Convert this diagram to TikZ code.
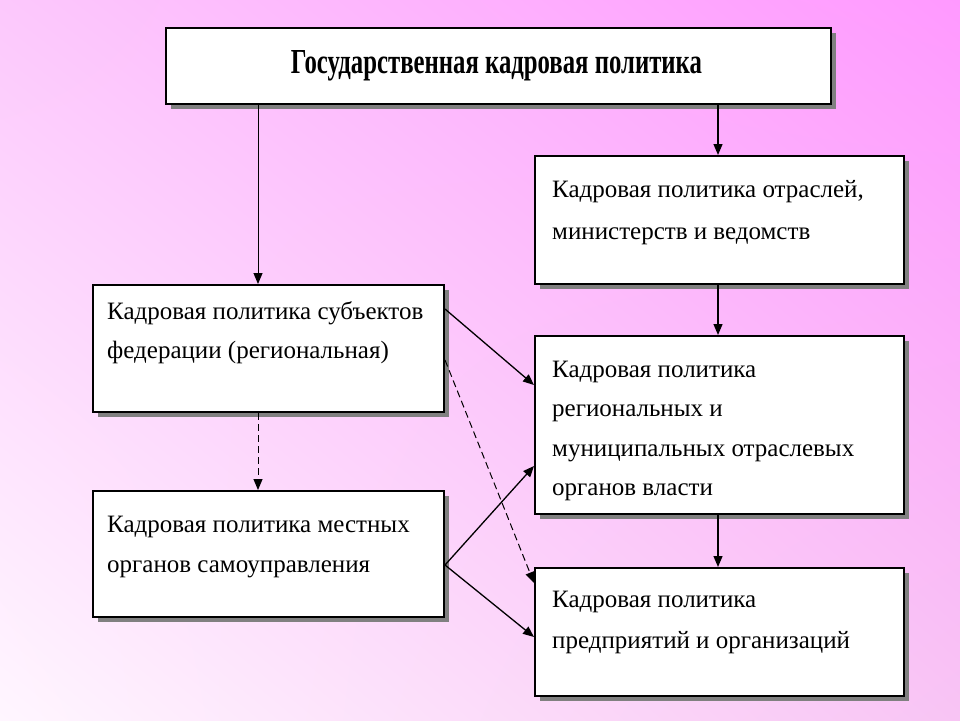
\documentclass[tikz,border=0pt]{standalone}
\usepackage{fontspec}
\setmainfont{Liberation Serif}
\usetikzlibrary{arrows.meta,shadows,calc,shadings}
\definecolor{bgTL}{HTML}{FCC8FC}
\definecolor{bgTR}{HTML}{FF99FF}
\definecolor{bgBL}{HTML}{FFF6FF}
\definecolor{bgBR}{HTML}{F8C4F4}
\definecolor{shad}{HTML}{808080}
\begin{document}
\begin{tikzpicture}[x=1pt,y=-1pt,
  box/.style={draw=black, line width=2pt, fill=white, inner sep=0pt, anchor=north west,
    drop shadow={shadow xshift=5pt, shadow yshift=-5pt, fill=shad, opacity=1}},
  txt/.style={anchor=base west, inner sep=0pt, align=left, font=\fontsize{25}{40}\selectfont},
  arr/.style={line width=1.3pt, -{Triangle[length=11pt,width=9pt]}},
  darr/.style={arr, dash pattern=on 7pt off 4pt},
]
\useasboundingbox (0,0) rectangle (960,720);
\shade[upper left=bgTL, upper right=bgTR, lower left=bgBL, lower right=bgBR] (0,0) rectangle (960,720);

\node[box, minimum width=665pt, minimum height=76pt] (top) at (165,27) {};
\node[box, minimum width=369pt, minimum height=128pt] (r1) at (534,155) {};
\node[box, minimum width=351pt, minimum height=127pt] (l1) at (92,284) {};
\node[box, minimum width=369pt, minimum height=178pt] (r2) at (534,335) {};
\node[box, minimum width=351pt, minimum height=126pt] (l2) at (92,490) {};
\node[box, minimum width=369pt, minimum height=128pt] (r3) at (534,567) {};

\node[anchor=base, inner sep=0pt] (tt) at (496.5,73) {\resizebox{411pt}{23pt}{\bfseries Государственная кадровая политика}};
% base anchor = baseline of the last line
\node[txt, font=\fontsize{25}{42}\selectfont] (tr1) at (552,239) {Кадровая политика отраслей,\\министерств и ведомств};
\node[txt, font=\fontsize{25}{39}\selectfont] (tl1) at (107,358) {Кадровая политика субъектов\\федерации (региональная)};
\node[txt, font=\fontsize{25}{39.5}\selectfont] (tr2) at (552,495.5) {Кадровая политика\\региональных и\\муниципальных отраслевых\\органов власти};
\node[txt] (tl2) at (107,572) {Кадровая политика местных\\органов самоуправления};
\node[txt, font=\fontsize{25}{41}\selectfont] (tr3) at (552,648) {Кадровая политика\\предприятий и организаций};

\coordinate (cL) at (258,0);
\coordinate (cR) at (718,0);
\draw[arr, line width=1pt] (cL |- top.south) -- (cL |- l1.north);
\draw[arr] (cR |- top.south) -- (cR |- r1.north);
\draw[arr] (cR |- r1.south) -- (cR |- r2.north);
\draw[arr] (cR |- r2.south) -- (cR |- r3.north);
\draw[darr, line width=1pt] (cL |- l1.south) -- (cL |- l2.north);
\draw[arr] ($(l1.north east)+(0,25)$) -- ($(r2.north west)+(0,50)$);
\draw[darr, line width=1pt] ($(l1.north east)+(0,76)$) -- ($(r3.north west)+(0,16)$);
\draw[arr] ($(l2.north east)+(0,75)$) -- ($(r2.north west)+(0,131)$);
\draw[arr] ($(l2.north east)+(0,75)$) -- ($(r3.north west)+(0,70)$);
\end{tikzpicture}
\end{document}
